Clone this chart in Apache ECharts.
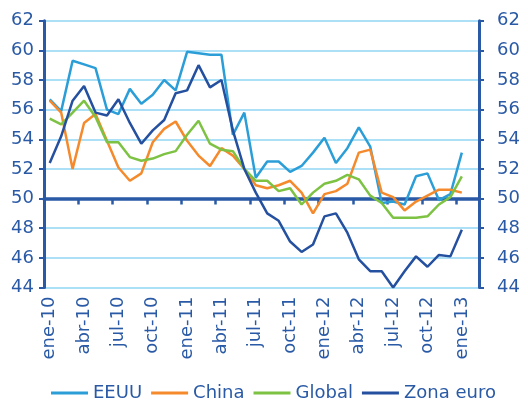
<!DOCTYPE html>
<html>
<head>
<meta charset="utf-8">
<script src="https://cdn.jsdelivr.net/npm/echarts@6/dist/echarts.min.js"></script>
<style>
  html, body { margin: 0; padding: 0; background: #fff; }
  #chart { width: 528px; height: 403px; }
</style>
</head>
<body>
<div id="chart"></div>
<script>
// meses (ene-10 .. feb-13)
var meses = ['ene', 'feb', 'mar', 'abr', 'may', 'jun', 'jul', 'ago', 'sep', 'oct', 'nov', 'dic'];
var categorias = [];
for (var a = 10; a <= 13; a++) {
	for (var m = 0; m < 12; m++) {
		if (a == 13 && m > 1) break;
		categorias.push(meses[m] + '-' + a);
	}
}

var eeuu = [56.7, 55.9, 59.3, 59.05, 58.8, 56.0, 55.7, 57.4, 56.4, 57.0, 58.0, 57.3,
	59.9, 59.8, 59.7, 59.7, 54.3, 55.8, 51.4, 52.5, 52.5, 51.8, 52.2, 53.1,
	54.1, 52.4, 53.4, 54.8, 53.5, 49.7, 49.8, 49.6, 51.5, 51.7, 49.9, 50.3, 53.1];
var china = [56.6, 55.8, 52.0, 55.1, 55.7, 53.9, 52.1, 51.2, 51.7, 53.8, 54.7, 55.2,
	53.9, 52.9, 52.2, 53.4, 52.9, 52.0, 50.9, 50.7, 50.9, 51.2, 50.4, 49.0,
	50.3, 50.5, 51.0, 53.1, 53.3, 50.4, 50.1, 49.2, 49.8, 50.2, 50.6, 50.6, 50.4];
var global = [55.4, 55.0, 55.8, 56.6, 55.5, 53.8, 53.8, 52.8, 52.55, 52.7, 53.0, 53.2,
	54.3, 55.25, 53.7, 53.3, 53.2, 52.0, 51.2, 51.2, 50.5, 50.7, 49.6, 50.4,
	51.0, 51.2, 51.6, 51.3, 50.2, 49.7, 48.7, 48.7, 48.7, 48.8, 49.6, 50.1, 51.5];
var zonaEuro = [52.4, 54.2, 56.6, 57.6, 55.8, 55.6, 56.7, 55.1, 53.7, 54.6, 55.3, 57.1,
	57.3, 59.0, 57.5, 58.0, 54.6, 52.0, 50.4, 49.0, 48.5, 47.1, 46.4, 46.9,
	48.8, 49.0, 47.7, 45.9, 45.1, 45.1, 44.0, 45.1, 46.1, 45.4, 46.2, 46.1, 47.9];

var azul = '#2a5aa6';
var fuente = 'DejaVu Sans';

var myChart = echarts.init(document.getElementById('chart'));

function ejeY(pos, margen) {
	return {
		type: 'value',
		gridIndex: 0,
		position: pos,
		min: 44,
		max: 62,
		interval: 2,
		axisLine: { show: true, lineStyle: { color: azul, width: 3 } },
		axisTick: { show: true, length: 5, lineStyle: { color: azul, width: 2 } },
		axisLabel: { color: azul, fontSize: 18, fontFamily: fuente, margin: margen },
		splitLine: { show: pos == 'left', lineStyle: { color: '#8fd6f4', width: 1.5 } }
	};
}

function serie(nombre, datos, color) {
	return {
		name: nombre,
		type: 'line',
		xAxisIndex: 0,
		yAxisIndex: 0,
		data: datos,
		symbol: 'none',
		lineStyle: { color: color, width: 2.5 },
		itemStyle: { color: color }
	};
}

var option = {
	animation: false,
	grid: [
		{ left: 44, right: 49, top: 20.7, bottom: 115.5 },
		// solo para la línea del 50 con sus marcas
		{ left: 44, right: 49, top: 198.6, bottom: 115.5 }
	],
	legend: {
		left: 46,
		top: 379,
		itemWidth: 37,
		itemHeight: 3,
		itemGap: 9,
		icon: 'rect',
		textStyle: { color: azul, fontSize: 18, fontFamily: fuente },
		data: ['EEUU', 'China', 'Global', 'Zona euro']
	},
	xAxis: [{
		type: 'category',
		gridIndex: 0,
		data: categorias,
		boundaryGap: true,
		axisLine: { show: false },
		axisTick: { show: false },
		axisLabel: { interval: 2, rotate: 90, color: azul, fontSize: 18, fontFamily: fuente, margin: 9 }
	}, {
		type: 'category',
		gridIndex: 1,
		position: 'top',
		data: categorias,
		boundaryGap: true,
		axisLine: { show: true, lineStyle: { color: azul, width: 3.5 } },
		axisTick: { show: true, interval: 2, inside: true, length: 6, lineStyle: { color: azul, width: 2.5 } },
		axisLabel: { show: false }
	}],
	yAxis: [
		ejeY('left', 10),
		ejeY('right', 18),
		{ type: 'value', gridIndex: 1, show: false, min: 44, max: 50 }
	],
	series: [
		serie('EEUU', eeuu, '#2b9ed8'),
		serie('China', china, '#f58a2c'),
		serie('Global', global, '#7dc243'),
		serie('Zona euro', zonaEuro, '#24509f')
	]
};
myChart.setOption(option);
</script>
</body>
</html>
